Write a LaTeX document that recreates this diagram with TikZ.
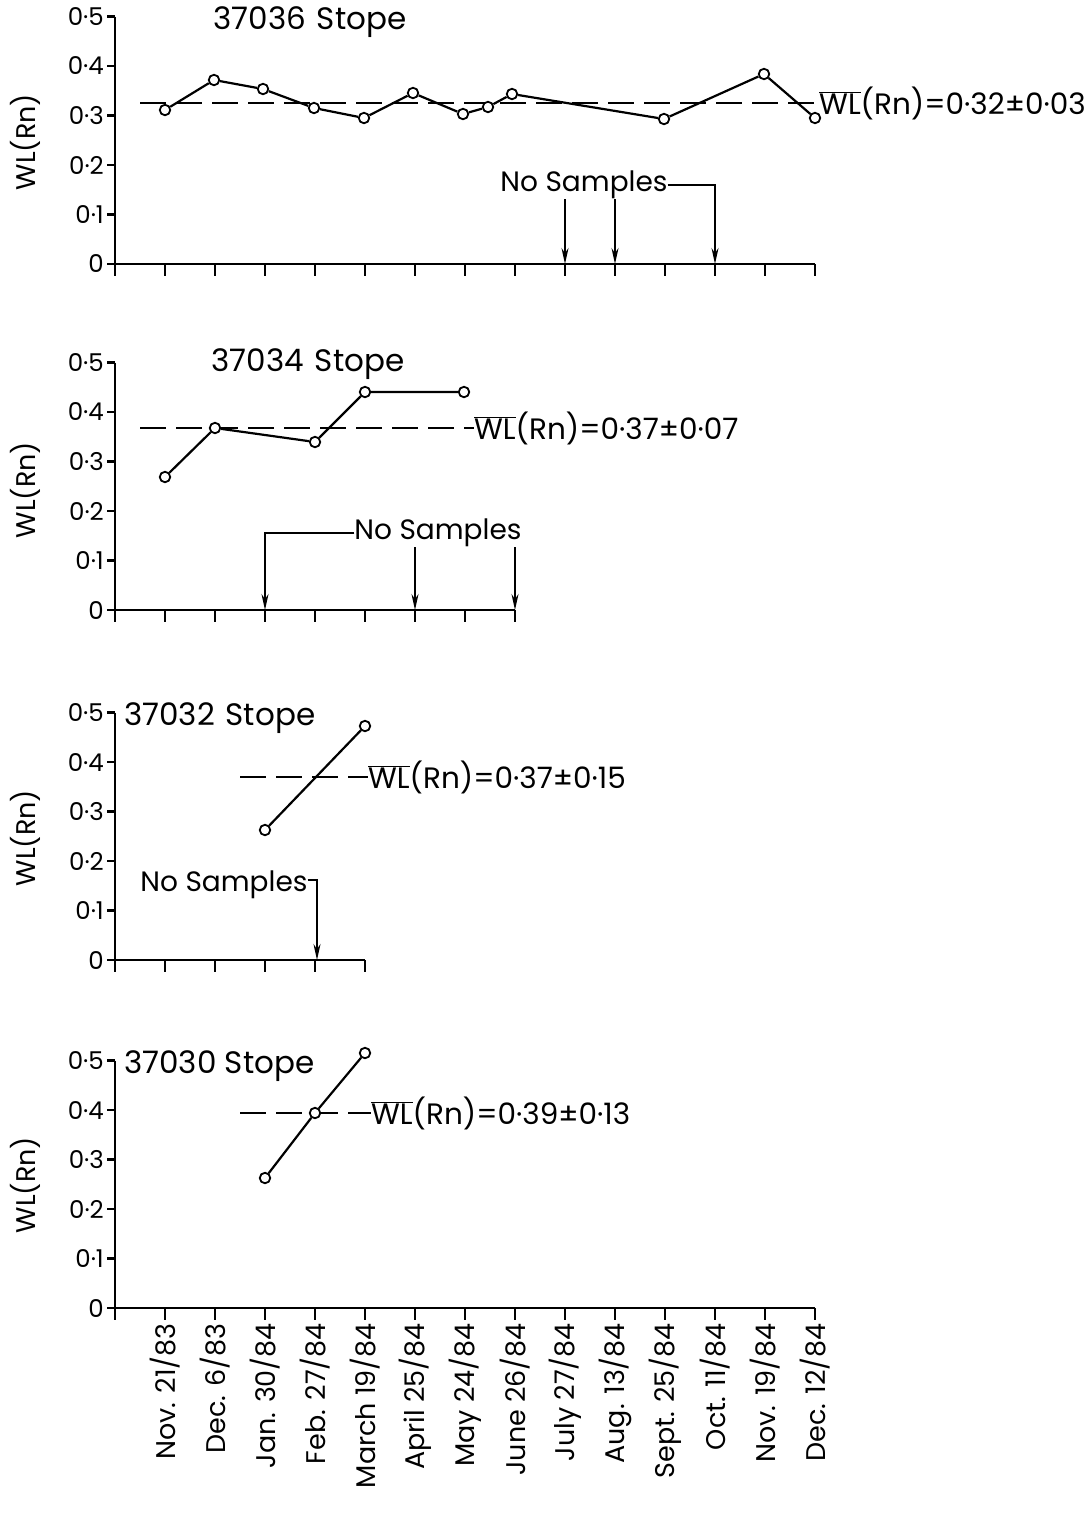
\documentclass[tikz,border=0pt]{standalone}
\usepackage{fontspec}
\setmainfont{Poppins}
\usetikzlibrary{arrows.meta}
\newcommand\barWL{$\overline{\hbox{WL}}$}
\newcommand\panelaxes[3]{%
  \draw[ax] (115,{#1-247.5}) -- (115,{#1+12});
  \draw[ax] (107,#1) -- (#2,#1);
  \foreach \v/\lab in {0/0,1/0·1,2/0·2,3/0·3,4/0·4,5/0·5} {
    \draw[ax] (107,{#1-49.5*\v}) -- (115,{#1-49.5*\v});
    \node[tl] (#3y\v) at (104,{#1-49.5*\v}) {\lab};
  }
  \foreach \x in {165,215,...,#2} {\draw[ax] (\x,#1) -- (\x,{#1+12});}
}
\begin{document}
\begin{tikzpicture}[x=1pt,y=-1pt,
  ax/.style={line width=2.6pt},
  dl/.style={line width=2.2pt},
  pt/.style={circle,draw,fill=white,line width=1.8pt,inner sep=0pt,minimum size=10.5pt},
  mean/.style={line width=2.6pt,dash pattern=on 26pt off 10pt},
  arr/.style={line width=1.8pt,-{Stealth[length=16pt,width=7pt]}},
  tl/.style={font=\fontsize{24.5}{24.5}\selectfont,anchor=east,inner sep=0pt},
  ttl/.style={font=\fontsize{31}{31}\selectfont,inner sep=0pt},
  ylab/.style={font=\fontsize{27}{27}\selectfont,inner sep=0pt,rotate=90},
  meanlab/.style={font=\fontsize{29.5}{29.5}\selectfont,inner sep=0pt,anchor=west},
  nsl/.style={font=\fontsize{28}{28}\selectfont,inner sep=0pt},
  datel/.style={font=\fontsize{27}{27}\selectfont,inner sep=0pt,rotate=90,anchor=east}
]
\fill[white] (0,0) rectangle (1089,1513);
\useasboundingbox (0,0) rectangle (1089,1513);

% ---------- Panel 1 : 37036 Stope ----------
\panelaxes{264}{815}{p1}
\node[ylab] (yl1) at (25,142) {WL(Rn)};
\node[ttl] (t1) at (310,22) {37036\hspace{0.35em}Stope};
\node[meanlab] (m1) at (819,103) {\barWL(Rn)=0·32±0·03};
\draw[mean] (140,103) -- (m1.west);
\node[pt] (a1) at (165,110) {};
\node[pt] (a2) at (214,80) {};
\node[pt] (a3) at (263,89) {};
\node[pt] (a4) at (314,108) {};
\node[pt] (a5) at (364,118) {};
\node[pt] (a6) at (413,93) {};
\node[pt] (a7) at (463,114) {};
\node[pt] (a8) at (488,107) {};
\node[pt] (a9) at (512,94) {};
\node[pt] (a10) at (664,119) {};
\node[pt] (a11) at (764,74) {};
\node[pt] (a12) at (815,118) {};
\draw[dl] (a1) -- (a2) -- (a3) -- (a4) -- (a5) -- (a6) -- (a7) -- (a8) -- (a9) -- (a10) -- (a11) -- (a12);
\node[nsl] (ns1) at (584,185) {No Samples};
\coordinate (n1a) at (565,264);
\coordinate (n1b) at (615,264);
\coordinate (n1c) at (715,264);
\draw[arr] (ns1.south -| n1a) -- (n1a);
\draw[arr] (ns1.south -| n1b) -- (n1b);
\draw[arr] (ns1.east) -| (n1c);

% ---------- Panel 2 : 37034 Stope ----------
\panelaxes{610}{515}{p2}
\node[ylab] (yl2) at (25,490) {WL(Rn)};
\node[ttl] (t2) at (308,364) {37034\hspace{0.35em}Stope};
\node[meanlab] (m2) at (474,428) {\barWL(Rn)=0·37±0·07};
\draw[mean] (140,428) -- (m2.west);
\node[pt] (b1) at (165,477) {};
\node[pt] (b2) at (215,428) {};
\node[pt] (b3) at (315,442) {};
\node[pt] (b4) at (365,392) {};
\node[pt] (b5) at (464,392) {};
\draw[dl] (b1) -- (b2) -- (b3) -- (b4) -- (b5);
\node[nsl] (ns2) at (438,533) {No Samples};
\coordinate (n2a) at (265,610);
\coordinate (n2b) at (415,610);
\coordinate (n2c) at (515,610);
\draw[arr] (ns2.west) -| (n2a);
\draw[arr] (ns2.south -| n2b) -- (n2b);
\draw[arr] (ns2.south -| n2c) -- (n2c);

% ---------- Panel 3 : 37032 Stope ----------
\panelaxes{960}{365}{p3}
\node[ylab] (yl3) at (25,838) {WL(Rn)};
\node[ttl,anchor=west] (t3) at (124,718) {37032\hspace{0.35em}Stope};
\node[meanlab] (m3) at (368,777) {\barWL(Rn)=0·37±0·15};
\draw[mean] (240,777) -- (m3.west);
\node[pt] (c1) at (265,830) {};
\node[pt] (c2) at (365,726) {};
\draw[dl] (c1) -- (c2);
\node[nsl] (ns3) at (224,885) {No Samples};
\coordinate (n3a) at (317,960);
\draw[arr] ([yshift=5pt]ns3.east) -| (n3a);

% ---------- Panel 4 : 37030 Stope ----------
\panelaxes{1308}{815}{p4}
\node[ylab] (yl4) at (25,1185) {WL(Rn)};
\node[ttl,anchor=west] (t4) at (124,1066) {37030 Stope};
\node[meanlab] (m4) at (371,1113) {\barWL(Rn)=0·39±0·13};
\draw[mean] (240,1113) -- (m4.west);
\node[pt] (d1) at (265,1178) {};
\node[pt] (d2) at (315,1113) {};
\node[pt] (d3) at (365,1053) {};
\draw[dl] (d1) -- (d2) -- (d3);

% ---------- Date labels ----------
\foreach \x/\d [count=\i] in {165/{Nov. 21/83},215/{Dec. 6/83},265/{Jan. 30/84},315/{Feb. 27/84},365/{March 19/84},415/{April 25/84},465/{May 24/84},515/{June 26/84},565/{July 27/84},615/{Aug. 13/84},665/{Sept. 25/84},715/{Oct. 11/84},765/{Nov. 19/84},815/{Dec. 12/84}} {
  \node[datel] (dt\i) at (\x,1323) {\d};
}
\end{tikzpicture}
\end{document}
